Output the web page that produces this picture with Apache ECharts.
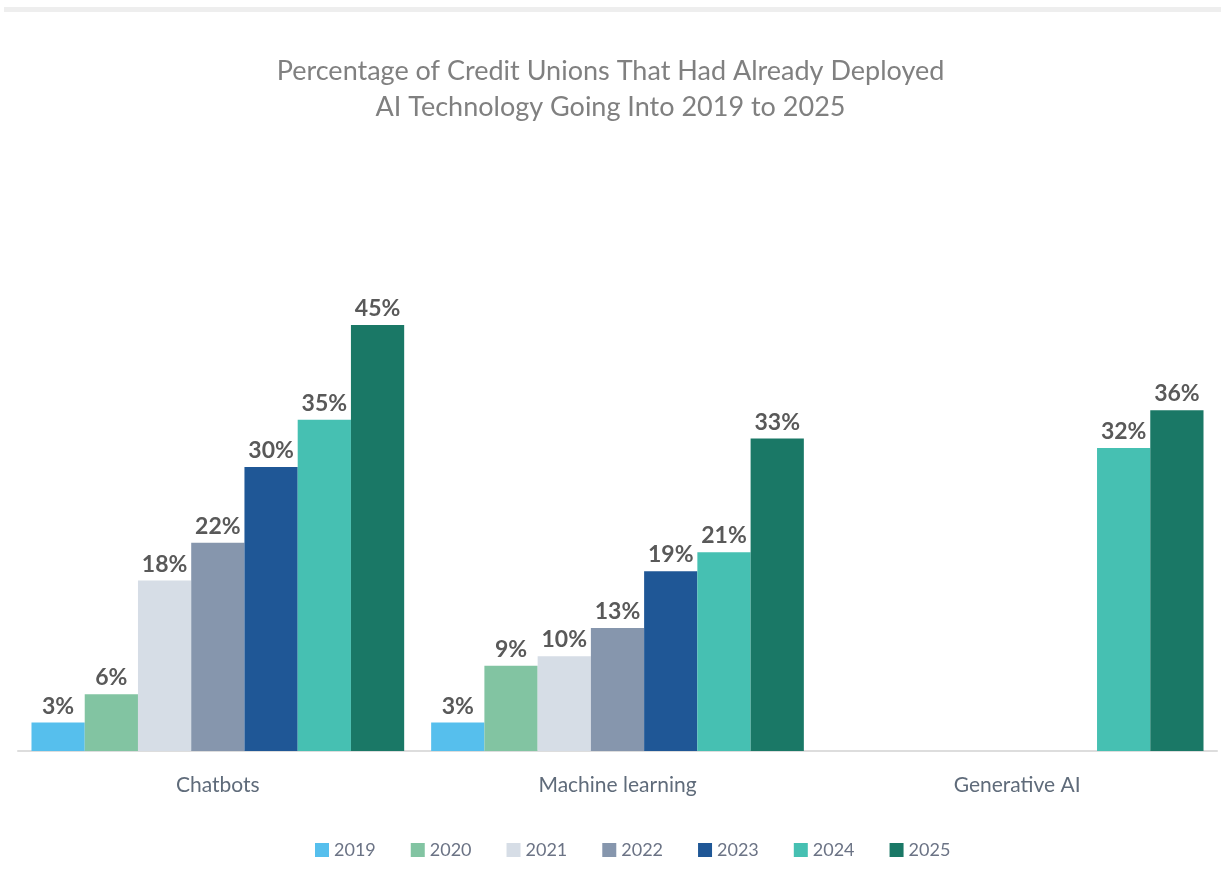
<!DOCTYPE html>
<html>
<head>
<meta charset="utf-8">
<script src="https://cdn.jsdelivr.net/npm/echarts@6/dist/echarts.min.js"></script>
<style>
    html, body { margin: 0; padding: 0; background: #fff; }
    #chart { width: 1221px; height: 895px; }
</style>
</head>
<body>
<div id="chart"></div>
<script>
    // categories and yearly values (percent)
    const categories = ['Chatbots', 'Machine learning', 'Generative AI'];
    const years = ['2019', '2020', '2021', '2022', '2023', '2024', '2025'];
    const v2019 = [3, 3, null];
    const v2020 = [6, 9, null];
    const v2021 = [18, 10, null];
    const v2022 = [22, 13, null];
    const v2023 = [30, 19, null];
    const v2024 = [35, 21, 32];
    const v2025 = [45, 33, 36];
    const colors = ['#56bfed', '#82c4a2', '#d6dde6', '#8696ad', '#1f5796', '#46c0b2', '#1a7866'];

    const values = [v2019, v2020, v2021, v2022, v2023, v2024, v2025];

    const chart = echarts.init(document.getElementById('chart'));
    chart.setOption({
        color: colors,
        animation: false,
        title: {
            text: 'Percentage of Credit Unions That Had Already Deployed\nAI Technology Going Into 2019 to 2025',
            left: 'center',
            top: 48,
            textStyle: {
                fontFamily: 'Lato',
                fontWeight: 'normal',
                fontSize: 27,
                color: '#808080',
                lineHeight: 36
            }
        },
        graphic: [{
            type: 'rect',
            shape: { x: 4, y: 7, width: 1217, height: 5 },
            style: { fill: '#eeeeee' }
        }],
        legend: {
            bottom: 31,
            left: 310,
            itemWidth: 14,
            itemHeight: 14,
            itemGap: 35,
            icon: 'rect',
            textStyle: { fontFamily: 'Lato', fontSize: 18, color: '#6b7385' },
            data: years
        },
        grid: { left: 18, right: 4, top: 183, bottom: 144 },
        xAxis: {
            type: 'category',
            data: categories,
            axisLine: { lineStyle: { color: '#dddddd', width: 2 } },
            axisTick: { show: false },
            axisLabel: { fontFamily: 'Lato', fontSize: 21, color: '#5f6b7a', margin: 24 }
        },
        yAxis: {
            type: 'value',
            min: 0,
            max: 60,
            show: false,
            splitLine: { show: false }
        },
        series: years.map((y, i) => ({
            name: y,
            type: 'bar',
            data: values[i],
            barGap: 0,
            barCategoryGap: '6.75%',
            label: {
                show: true,
                position: 'top',
                formatter: '{c}%',
                fontFamily: 'Lato',
                fontWeight: 'bold',
                fontSize: 23,
                color: '#595959',
                distance: 5
            }
        }))
    });
</script>
</body>
</html>
